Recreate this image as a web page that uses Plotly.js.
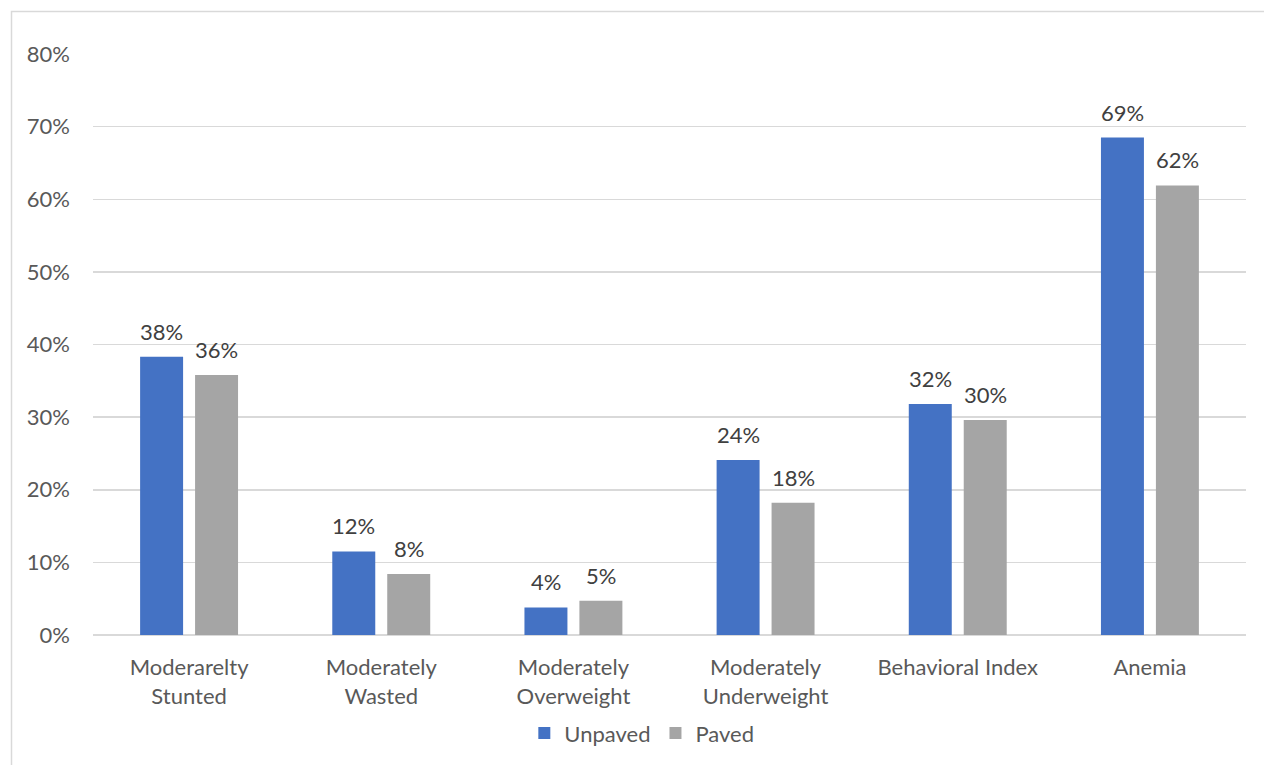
<!DOCTYPE html>
<html>
<head>
<meta charset="utf-8">
<script src="https://cdn.plot.ly/plotly-3.0.1.min.js"></script>
<style>
  html, body { margin: 0; padding: 0; background: #ffffff; }
  #chart { width: 1264px; height: 765px; }
</style>
</head>
<body>
<div id="chart"></div>
<script>
// Indicators compared between households on unpaved and paved roads
const categories = [
  "Moderarelty<br>Stunted",
  "Moderately<br>Wasted",
  "Moderately<br>Overweight",
  "Moderately<br>Underweight",
  "Behavioral Index",
  "Anemia"
];
const unpaved = [0.383, 0.115, 0.038, 0.241, 0.318, 0.685];
const paved   = [0.358, 0.084, 0.047, 0.182, 0.296, 0.619];
const seriesNames = ["Unpaved", "Paved"];
const yTicks = [0, 0.1, 0.2, 0.3, 0.4, 0.5, 0.6, 0.7, 0.8];

const FONT = "Lato, 'Open Sans', sans-serif";
const FS = 22;
const BLUE = "#4472C4";
const GREY = "#A5A5A5";

const W = 1264, H = 765;
const margin = { l: 93, r: 18, t: 54, b: 129 };
const plotW = W - margin.l - margin.r;
const plotH = H - margin.t - margin.b;

const traces = [
  { type: "bar", name: seriesNames[0], x: categories, y: unpaved,
    marker: { color: BLUE }, hoverinfo: "skip" },
  { type: "bar", name: seriesNames[1], x: categories, y: paved,
    marker: { color: GREY }, hoverinfo: "skip" }
];

// value labels sit above each bar, shifted to the bar's slot in the group
const pct = v => Math.round(v * 100) + "%";
const slotShift = 27.5;
const annotations = [];
categories.forEach((c, i) => {
  [[unpaved, -slotShift], [paved, slotShift]].forEach(([vals, dx]) => {
    annotations.push({
      x: c, y: vals[i], xref: "x", yref: "y",
      text: pct(vals[i]), showarrow: false,
      xshift: dx, yshift: 10, yanchor: "bottom",
      font: { family: FONT, size: FS, color: "#404040" }
    });
  });
});

// outer chart frame
const px2x = p => (p - margin.l) / plotW;
const py2y = p => (H - margin.b - p) / plotH;
const shapes = [{
  type: "rect", xref: "paper", yref: "paper", layer: "below",
  x0: px2x(11.5), x1: px2x(W + 20), y0: py2y(H + 20), y1: py2y(11.5),
  line: { color: "#d9d9d9", width: 1.5 }, fillcolor: "rgba(0,0,0,0)"
}];

const layout = {
  width: W, height: H,
  margin: margin,
  paper_bgcolor: "#ffffff", plot_bgcolor: "#ffffff",
  font: { family: FONT, size: FS, color: "#595959" },
  barmode: "group", bargap: 0.428, bargroupgap: 0.218,
  showlegend: true,
  legend: {
    orientation: "h", x: 0.476, xanchor: "center", y: -0.167, yanchor: "middle",
    font: { family: FONT, size: FS, color: "#595959" },
    itemwidth: 30, traceorder: "normal"
  },
  xaxis: {
    type: "category", showgrid: false, zeroline: false,
    showline: false, ticks: "", ticklabelstandoff: 17,
    tickfont: { family: FONT, size: FS, color: "#595959" },
    fixedrange: true
  },
  yaxis: {
    range: [0, 0.8], tickvals: yTicks, tickformat: ".0%",
    showgrid: true, gridcolor: "#d9d9d9", gridwidth: 1.5,
    zeroline: true, zerolinecolor: "#d9d9d9", zerolinewidth: 1.5,
    showline: false, ticks: "", ticklabelstandoff: 22,
    tickfont: { family: FONT, size: FS, color: "#595959" },
    fixedrange: true
  },
  annotations: annotations,
  shapes: shapes
};

Plotly.newPlot("chart", traces, layout, { displayModeBar: false, staticPlot: true });
</script>
</body>
</html>
